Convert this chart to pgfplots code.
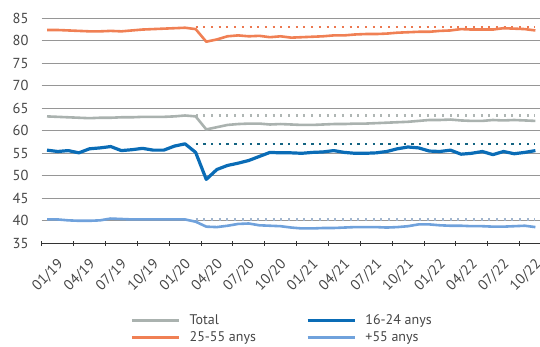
\documentclass[border=0pt]{standalone}
\usepackage{fontspec}
\setmainfont{PT Sans}
\usepackage{pgfplots}
\pgfplotsset{compat=1.18}

\definecolor{cTotal}{RGB}{170,178,175}
\definecolor{cMid}{RGB}{240,128,84}
\definecolor{cYoung}{RGB}{10,108,182}
\definecolor{cOld}{RGB}{112,162,220}
\definecolor{cTotalDot}{RGB}{175,182,180}
\definecolor{cMidDot}{RGB}{236,120,80}
\definecolor{cYoungDot}{RGB}{20,100,130}
\definecolor{cOldDot}{RGB}{160,180,205}
\definecolor{cGrid}{RGB}{150,150,150}
\definecolor{cText}{RGB}{70,70,70}

% Monthly series, 01/19 (0) to 11/22 (46)
\usepackage{pgfplotstable}
\pgfplotstableread{
x  total mid   young old
0  63.2  82.4  55.7  40.3
1  63.1  82.4  55.4  40.3
2  63.0  82.3  55.6  40.1
3  62.9  82.2  55.1  40.0
4  62.8  82.1  56.0  40.0
5  62.9  82.1  56.2  40.1
6  62.9  82.2  56.5  40.5
7  63.0  82.1  55.6  40.4
8  63.0  82.3  55.8  40.3
9  63.1  82.5  56.1  40.3
10 63.1  82.6  55.7  40.3
11 63.1  82.7  55.7  40.3
12 63.2  82.8  56.6  40.3
13 63.4  82.9  57.1  40.3
14 63.2  82.6  55.2  39.8
15 60.3  79.8  49.2  38.7
16 60.8  80.3  51.4  38.6
17 61.3  81.0  52.3  38.9
18 61.5  81.2  52.8  39.3
19 61.6  81.0  53.4  39.4
20 61.6  81.1  54.3  39.0
21 61.4  80.8  55.2  38.9
22 61.5  81.0  55.1  38.8
23 61.4  80.7  55.1  38.5
24 61.3  80.8  55.0  38.3
25 61.3  80.9  55.2  38.3
26 61.4  81.0  55.3  38.4
27 61.5  81.2  55.6  38.4
28 61.5  81.2  55.2  38.5
29 61.6  81.4  55.0  38.6
30 61.6  81.5  55.0  38.6
31 61.7  81.5  55.1  38.6
32 61.8  81.6  55.4  38.5
33 61.9  81.8  56.0  38.6
34 62.0  81.9  56.4  38.8
35 62.2  82.0  56.2  39.2
36 62.4  82.0  55.5  39.2
37 62.4  82.2  55.4  39.0
38 62.5  82.3  55.7  38.9
39 62.3  82.6  54.8  38.9
40 62.2  82.5  55.0  38.8
41 62.2  82.5  55.4  38.8
42 62.4  82.5  54.7  38.7
43 62.3  82.8  55.4  38.7
44 62.4  82.7  54.9  38.8
45 62.3  82.6  55.2  38.9
46 62.2  82.3  55.6  38.6
}\rates

\begin{document}
\begin{tikzpicture}
\path[use as bounding box] (0,0) rectangle (540pt,347pt);
\begin{axis}[
  at={(41.7pt,103.7pt)}, anchor=south west,
  scale only axis, width=499pt, height=225pt,
  xmin=-0.5, xmax=46.5, ymin=35, ymax=85,
  ytick={35,40,45,50,55,60,65,70,75,80,85},
  xtick={-0.5,2.5,5.5,8.5,11.5,14.5,17.5,20.5,23.5,26.5,29.5,32.5,35.5,38.5,41.5,44.5},
  xticklabels={01/19,04/19,07/19,10/19,01/20,04/20,07/20,10/20,01/21,04/21,07/21,10/21,01/22,04/22,07/22,10/22},
  separate axis lines,
  axis x line*=bottom, axis y line*=left,
  y axis line style={draw=none},
  x axis line style={draw=black!80, line width=0.8pt},
  ymajorgrids, grid style={cGrid, line width=0.6pt},
  ytick style={draw=none},
  xtick style={draw=black!80, line width=0.8pt},
  xtick align=center, major tick length=5pt,
  /pgf/number format/assume math mode=true,
  tick label style={font=\fontsize{14.5}{16}\selectfont, text=cText},
  yticklabel style={inner sep=0pt, xshift=-13pt},
  xticklabel style={rotate=45, anchor=north east, inner sep=0pt, xshift=2pt, yshift=-19pt},
  legend columns=2,
  legend style={at={(0.1768,-0.382)}, anchor=west, draw=none, fill=none,
    inner sep=0pt, font=\fontsize{14}{16}\selectfont, text=cText,
    nodes={inner sep=0pt, text height=10pt, text depth=3pt},
    /tikz/row sep=4pt,
    /tikz/every odd column/.append style={column sep=9pt},
    /tikz/every even column/.append style={column sep=50pt}},
  legend cell align=left,
  legend image code/.code={\draw[#1, line width=3.5pt] (0pt,0pt) -- (47pt,0pt);},
]
% reference levels (February 2020)
\addplot[forget plot, cMidDot, line width=2.2pt, dash pattern=on 2pt off 5.7pt] coordinates {(14,83.0) (46,83.0)};
\addplot[forget plot, cTotalDot, line width=2.2pt, dash pattern=on 2pt off 5.7pt] coordinates {(14,63.4) (46,63.4)};
\addplot[forget plot, cYoungDot, line width=2.6pt, dash pattern=on 2.4pt off 5.3pt] coordinates {(14,57.1) (46,57.1)};
\addplot[forget plot, cOldDot, line width=2.2pt, dash pattern=on 2pt off 5.7pt] coordinates {(14,40.3) (46,40.3)};
% monthly rates
\addplot[cTotal, line width=2.6pt, line join=round] table[x=x, y=total] {\rates};
\addlegendentry{Total}
\addplot[cYoung, line width=3.2pt, line join=round] table[x=x, y=young] {\rates};
\addlegendentry{16-24 anys}
\addplot[cMid, line width=2.6pt, line join=round] table[x=x, y=mid] {\rates};
\addlegendentry{25-55 anys}
\addplot[cOld, line width=2.6pt, line join=round] table[x=x, y=old] {\rates};
\addlegendentry{+55 anys}
\end{axis}
\end{tikzpicture}
\end{document}
